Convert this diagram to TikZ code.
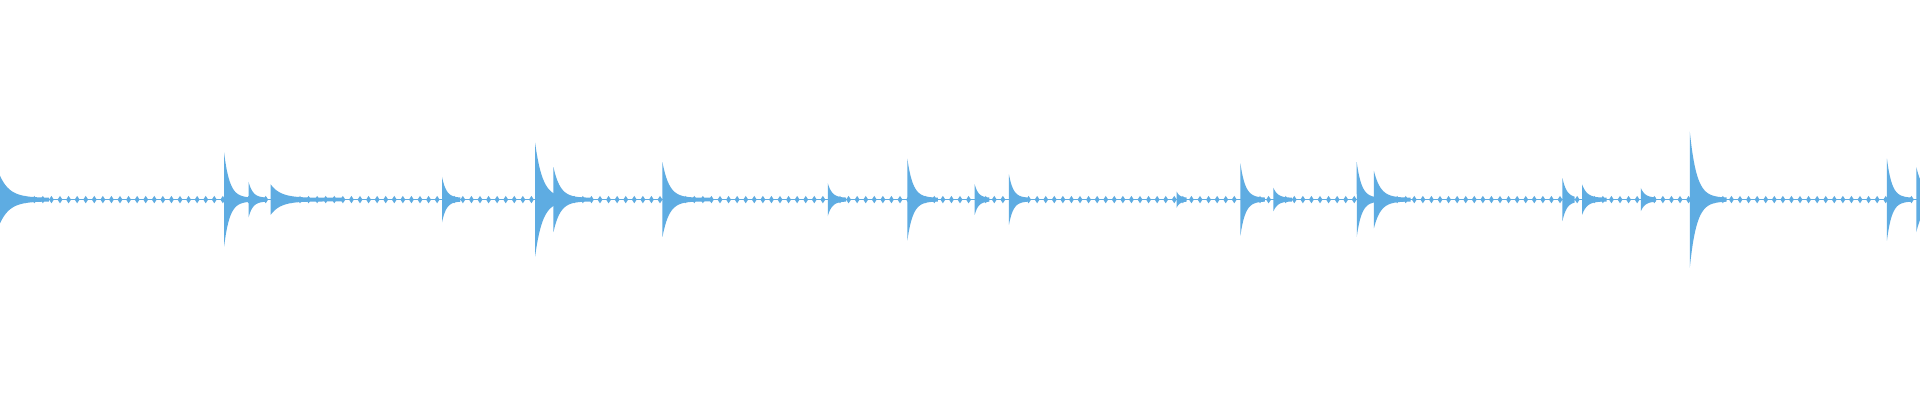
\documentclass[tikz,border=0pt]{standalone}
\definecolor{wavec}{RGB}{94,172,226}
\begin{document}
\begin{tikzpicture}[x=1.2245pt,y=-1.2245pt,wave/.style={fill=wavec}]
\useasboundingbox (0,0) rectangle (1568,326.7);
\fill[white] (0,0) rectangle (1568,326.7);
\draw[wavec,line width=1.3pt] (0,163) -- (1568,163);
\foreach \x in {0,7,...,1568} \fill[wave] (\x,160) -- (\x+2,163) -- (\x,166) -- (\x-2,163) -- cycle;
\foreach \X/\A/\L/\T in {0/18/40/8,183/37/20/4.5,203/13/15/3.5,221/11/60/8,361/17/15/3.5,437/45/40/6,452/25/30/5.5,541/29/40/5.5,676/12/15/3.5,741/32/25/4.5,796/11/12/3,824/19/15/3.5,961/5/8/2.5,1013/28/20/4,1040/8/15/3.5,1108/29/20/4,1122/22/30/5.5,1276/16/10/3.5,1292/11/20/4,1340/8/12/3.5,1380/54/30/5.5,1541/32/20/4,1565/25/3/6}{
  \fill[wave] plot[domain=0:\L,samples=40] ({\X+\x},{163-\A*exp(-\x/\T)-1.5}) -- plot[domain=\L:0,samples=40] ({\X+\x},{163+\A*exp(-\x/\T)+1.5}) -- cycle;
}
\end{tikzpicture}
\end{document}
